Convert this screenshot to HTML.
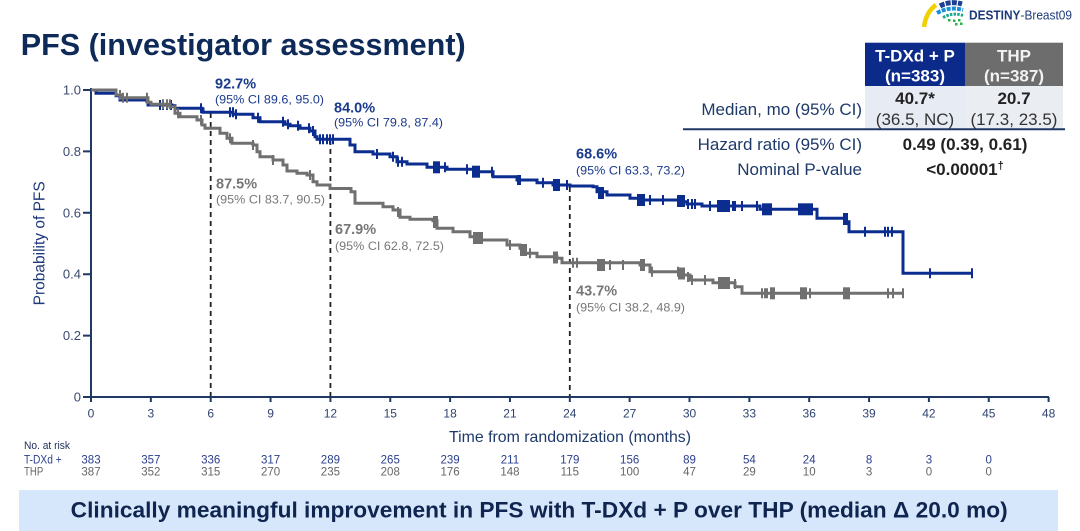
<!DOCTYPE html>
<html>
<head>
<meta charset="utf-8">
<style>
html,body{margin:0;padding:0;background:#ffffff;}
svg{display:block;}
text{font-family:"Liberation Sans",Arial,sans-serif;}
</style>
</head>
<body>
<svg width="1080" height="531" viewBox="0 0 1080 531" xmlns="http://www.w3.org/2000/svg">
<rect x="0" y="0" width="1080" height="531" fill="#ffffff"/>

<!-- Title -->
<text x="20.7" y="55" font-size="31" font-weight="bold" fill="#0e2a58" textLength="445" lengthAdjust="spacingAndGlyphs">PFS (investigator assessment)</text>

<!-- Logo -->
<g>
  <path d="M924 27 Q926 12 936 5" stroke="#f0d000" stroke-width="4.5" fill="none"/>
  <path d="M940 6 Q950 0.5 962 4" stroke="#1c3f94" stroke-width="5" fill="none" stroke-dasharray="5 1.2"/>
  <path d="M937 13 Q950 6 963 10" stroke="#1a8fd8" stroke-width="4" fill="none" stroke-dasharray="4 1.2"/>
  <path d="M943 17.5 Q953 12 963 15.5" stroke="#19a98c" stroke-width="3" fill="none" stroke-dasharray="2.5 1.2"/>
  <rect x="948" y="19" width="2.5" height="2.5" fill="#2bb34a"/>
  <rect x="953" y="19.5" width="2.5" height="2.5" fill="#2bb34a"/>
  <rect x="958" y="19" width="2.5" height="2.5" fill="#2bb34a"/>
  <rect x="955" y="23" width="2.5" height="2.5" fill="#2bb34a"/>
  <rect x="960" y="22.5" width="2.5" height="2.5" fill="#2bb34a"/>
  <text x="969" y="19.5" font-size="12.5" fill="#1c3a7a" textLength="103" lengthAdjust="spacingAndGlyphs"><tspan font-weight="bold">DESTINY</tspan>-Breast09</text>
</g>

<!-- Table -->
<rect x="865" y="42.7" width="100" height="43.3" fill="#0b2a8a"/>
<rect x="965" y="42.7" width="98" height="43.3" fill="#6d6d6d"/>
<rect x="865" y="86" width="100" height="42.3" fill="#e7ebf3"/>
<rect x="965" y="86" width="98" height="42.3" fill="#eaedf2"/>
<text x="915" y="61.7" font-size="17" font-weight="bold" fill="#ffffff" text-anchor="middle">T-DXd + P</text>
<text x="915" y="81.7" font-size="17" font-weight="bold" fill="#ffffff" text-anchor="middle">(n=383)</text>
<text x="1014" y="61.7" font-size="17" font-weight="bold" fill="#f2f2f2" text-anchor="middle">THP</text>
<text x="1014" y="81.7" font-size="17" font-weight="bold" fill="#f2f2f2" text-anchor="middle">(n=387)</text>
<text x="915" y="104" font-size="17" font-weight="bold" fill="#222222" text-anchor="middle">40.7*</text>
<text x="915" y="125" font-size="17" fill="#333333" text-anchor="middle">(36.5, NC)</text>
<text x="1014" y="104" font-size="17" font-weight="bold" fill="#222222" text-anchor="middle">20.7</text>
<text x="1014" y="125" font-size="17" fill="#333333" text-anchor="middle">(17.3, 23.5)</text>
<text x="862" y="115" font-size="17" fill="#1f3a6a" text-anchor="end">Median, mo (95% CI)</text>
<line x1="683" y1="129.3" x2="1065" y2="129.3" stroke="#1f3864" stroke-width="2"/>
<text x="862" y="150" font-size="17" fill="#1f3a6a" text-anchor="end">Hazard ratio (95% CI)</text>
<text x="965" y="150" font-size="17" font-weight="bold" fill="#222222" text-anchor="middle">0.49 (0.39, 0.61)</text>
<text x="862" y="175" font-size="17" fill="#1f3a6a" text-anchor="end">Nominal P-value</text>
<text x="965" y="175" font-size="17" font-weight="bold" fill="#222222" text-anchor="middle">&lt;0.00001<tspan font-size="11" dy="-6">†</tspan></text>

<!-- Axes -->
<g stroke="#1f3864" stroke-width="2" fill="none">
  <line x1="91" y1="88" x2="91" y2="397"/>
  <line x1="90" y1="397" x2="1049" y2="397"/>
  <path d="M83 90H91M83 151.4H91M83 212.8H91M83 274.2H91M83 335.6H91M83 397H91"/>
  <path d="M91 397v5M150.85 397v5M210.7 397v5M270.55 397v5M330.4 397v5M390.25 397v5M450.1 397v5M509.95 397v5M569.8 397v5M629.65 397v5M689.5 397v5M749.35 397v5M809.2 397v5M869.05 397v5M928.9 397v5M988.75 397v5M1048.6 397v5"/>
</g>
<g font-size="13" fill="#3a4a70" text-anchor="end">
  <text x="81" y="94.5">1.0</text>
  <text x="81" y="155.9">0.8</text>
  <text x="81" y="217.3">0.6</text>
  <text x="81" y="278.7">0.4</text>
  <text x="81" y="340.1">0.2</text>
  <text x="81" y="401.5">0</text>
</g>
<g font-size="12" fill="#2f4370" text-anchor="middle">
  <text x="91" y="417.5">0</text>
  <text x="150.85" y="417.5">3</text>
  <text x="210.7" y="417.5">6</text>
  <text x="270.55" y="417.5">9</text>
  <text x="330.4" y="417.5">12</text>
  <text x="390.25" y="417.5">15</text>
  <text x="450.1" y="417.5">18</text>
  <text x="509.95" y="417.5">21</text>
  <text x="569.8" y="417.5">24</text>
  <text x="629.65" y="417.5">27</text>
  <text x="689.5" y="417.5">30</text>
  <text x="749.35" y="417.5">33</text>
  <text x="809.2" y="417.5">36</text>
  <text x="869.05" y="417.5">39</text>
  <text x="928.9" y="417.5">42</text>
  <text x="988.75" y="417.5">45</text>
  <text x="1048.6" y="417.5">48</text>
</g>
<text x="570" y="442" font-size="16" fill="#1f3a6a" text-anchor="middle" textLength="242" lengthAdjust="spacingAndGlyphs">Time from randomization (months)</text>
<text transform="translate(44.5,243.3) rotate(-90)" font-size="15.5" fill="#1f3a7a" text-anchor="middle">Probability of PFS</text>

<!-- Dashed reference lines -->
<g stroke="#222222" stroke-width="1.8" stroke-dasharray="5 4">
  <line x1="210.7" y1="113" x2="210.7" y2="396"/>
  <line x1="330.4" y1="140" x2="330.4" y2="396"/>
  <line x1="569.8" y1="187" x2="569.8" y2="396"/>
</g>

<!-- Blue curve (T-DXd + P) -->
<path fill="none" stroke="#0b2d8f" stroke-width="3" d="M91 90 H96 V93.3 H116 V95.7 H120 V100 H147 V101.7 H148 V105 H172 V105.7 H175 V108.3 H202 V109 H203 V112.3 H233 V114.3 H253 V117.7 H260 V121.7 H285 V124.3 H290 V125.7 H300 V128.3 H310 V131 H315 V136.7 H317 V139.3 H350 V145 H355 V151.7 H373 V154 H390 V156.7 H397 V161.7 H407 V164 H427 V167.3 H447 V169.3 H477 V171.7 H493 V176.7 H517 V180 H537 V182.7 H553 V185 H570 V186 H593 V186.7 H597 V191.7 H607 V195 H630 V198.3 H640 V200 H678 V200 H682 V201.7 H687 V204 H702 V206 H760 V209.3 H817 V218.3 H845 V221.7 H849 V231.7 H903 V273.3 H972"/>
<path fill="none" stroke="#0b2d8f" stroke-width="2" d="M160 100v10 M163 100v10 M167 100v10 M171 100v10 M201 103.3v10 M230 107.3v10 M233 107.3v10 M236 109.3v10 M258 112.7v10 M283 116.7v10 M288 119.3v10 M298 120.7v10 M309 123.3v10 M313 126v10 M320 134.3v10 M323 134.3v10 M327 134.3v10 M330 134.3v10 M333 134.3v10 M377 149v10 M393 151.7v10 M398 156.7v10 M402 156.7v10 M445 162.3v10 M467 164.3v10 M492 166.7v10 M518 175v10 M520 175v10 M543 177.7v10 M567 180v10 M650 195v10 M663 195v10 M678 195v10 M688 199v10 M692 199v10 M695 199v10 M710 201v10 M733 201v10 M735 201v10 M742 201v10 M757 201v10 M865 226.7v10 M885 226.7v10 M888 226.7v10 M892 226.7v10 M930 268.3v10 M972 268.3v10"/>
<g fill="#0b2d8f">
  <rect x="433" y="161.3" width="7" height="12"/>
  <rect x="472" y="165.7" width="8" height="12"/>
  <rect x="553" y="179" width="7" height="12"/>
  <rect x="598" y="187" width="6" height="12"/>
  <rect x="637" y="194" width="8" height="12"/>
  <rect x="677" y="195" width="8" height="12"/>
  <rect x="717" y="200" width="13" height="12"/>
  <rect x="762" y="203.3" width="10" height="12"/>
  <rect x="798" y="203.3" width="15" height="12"/>
  <rect x="843" y="213" width="5" height="12"/>
</g>

<!-- Gray curve (THP) -->
<path fill="none" stroke="#707070" stroke-width="3" d="M91 90 H116 V95 H121 V97.7 H148 V102.3 H151 V104.3 H170 V106.7 H175 V113.3 H180 V116.7 H197 V120 H202 V125 H205 V128.3 H220 V133.3 H227 V138.3 H232 V143.3 H253 V145 H257 V151.7 H260 V156.7 H273 V160 H283 V165 H287 V171 H297 V173.3 H307 V175 H313 V181.7 H317 V185 H330 V188.5 H351 V191.7 H355 V203.3 H383 V206.7 H393 V210 H400 V217.3 H410 V219.3 H433 V220.7 H437 V228.3 H453 V231.7 H470 V236.7 H480 V240 H507 V245 H520 V248.3 H523 V253.3 H537 V256.7 H557 V258.3 H562 V262.8 H640 V265 H650 V271.7 H682 V275 H690 V280 H713 V282.7 H735 V286.7 H742 V293.3 H903"/>
<path fill="none" stroke="#707070" stroke-width="2" d="M120 90v10 M123 92.7v10 M127 92.7v10 M147 92.7v10 M163 99.3v10 M167 99.3v10 M170 99.3v10 M178 108.3v10 M201 115v10 M230 133.3v10 M253 140v10 M273 155v10 M310 170v10 M398 207v10 M510 240v10 M530 248.3v10 M573 257.8v10 M577 257.8v10 M610 260v10 M623 260v10 M652 266.7v10 M678 266.7v10 M688 272v10 M692 275v10 M705 275v10 M735 279v10 M762 288.3v10 M765 288.3v10 M767 288.3v10 M810 288.3v10 M888 288.3v10 M893 288.3v10 M903 288.3v10"/>
<g fill="#707070">
  <rect x="433" y="216" width="5" height="12"/>
  <rect x="473" y="232" width="10" height="12"/>
  <rect x="520" y="244" width="7" height="12"/>
  <rect x="553" y="251.5" width="5" height="12"/>
  <rect x="597" y="259" width="8" height="12"/>
  <rect x="640" y="259" width="5" height="12"/>
  <rect x="678" y="267.5" width="7" height="12"/>
  <rect x="718" y="277" width="12" height="12"/>
  <rect x="770" y="287.3" width="5" height="12"/>
  <rect x="800" y="287.3" width="7" height="12"/>
  <rect x="843" y="287.3" width="7" height="12"/>
</g>

<!-- Annotations -->
<g font-weight="bold" font-size="14.5" fill="#1a3a8c">
  <text x="215" y="88.3">92.7%</text>
  <text x="334" y="112.5">84.0%</text>
  <text x="576" y="158.3">68.6%</text>
</g>
<g font-size="12" fill="#1a3a8c">
  <text x="215" y="103.3" textLength="109" lengthAdjust="spacingAndGlyphs">(95% CI 89.6, 95.0)</text>
  <text x="334" y="126.7" textLength="109" lengthAdjust="spacingAndGlyphs">(95% CI 79.8, 87.4)</text>
  <text x="576" y="174.3" textLength="109" lengthAdjust="spacingAndGlyphs">(95% CI 63.3, 73.2)</text>
</g>
<g font-weight="bold" font-size="14.5" fill="#777777">
  <text x="216" y="188.3">87.5%</text>
  <text x="335" y="234">67.9%</text>
  <text x="576" y="295.7">43.7%</text>
</g>
<g font-size="12" fill="#777777">
  <text x="216" y="203.3" textLength="109" lengthAdjust="spacingAndGlyphs">(95% CI 83.7, 90.5)</text>
  <text x="335" y="250" textLength="109" lengthAdjust="spacingAndGlyphs">(95% CI 62.8, 72.5)</text>
  <text x="576" y="311.7" textLength="109" lengthAdjust="spacingAndGlyphs">(95% CI 38.2, 48.9)</text>
</g>

<!-- Number at risk -->
<text x="24" y="449" font-size="11" fill="#1f2d5a" textLength="46" lengthAdjust="spacingAndGlyphs">No. at risk</text>
<text x="24" y="463.3" font-size="11.5" fill="#2b3f8c" textLength="37.7" lengthAdjust="spacingAndGlyphs">T-DXd +</text>
<text x="24" y="475.7" font-size="11.5" fill="#666666" textLength="19.3" lengthAdjust="spacingAndGlyphs">THP</text>
<g font-size="11.5" fill="#2b3f8c" text-anchor="middle">
  <text x="91" y="463.3">383</text>
  <text x="150.85" y="463.3">357</text>
  <text x="210.7" y="463.3">336</text>
  <text x="270.55" y="463.3">317</text>
  <text x="330.4" y="463.3">289</text>
  <text x="390.25" y="463.3">265</text>
  <text x="450.1" y="463.3">239</text>
  <text x="509.95" y="463.3">211</text>
  <text x="569.8" y="463.3">179</text>
  <text x="629.65" y="463.3">156</text>
  <text x="689.5" y="463.3">89</text>
  <text x="749.35" y="463.3">54</text>
  <text x="809.2" y="463.3">24</text>
  <text x="869.05" y="463.3">8</text>
  <text x="928.9" y="463.3">3</text>
  <text x="988.75" y="463.3">0</text>
</g>
<g font-size="11.5" fill="#666666" text-anchor="middle">
  <text x="91" y="475.7">387</text>
  <text x="150.85" y="475.7">352</text>
  <text x="210.7" y="475.7">315</text>
  <text x="270.55" y="475.7">270</text>
  <text x="330.4" y="475.7">235</text>
  <text x="390.25" y="475.7">208</text>
  <text x="450.1" y="475.7">176</text>
  <text x="509.95" y="475.7">148</text>
  <text x="569.8" y="475.7">115</text>
  <text x="629.65" y="475.7">100</text>
  <text x="689.5" y="475.7">47</text>
  <text x="749.35" y="475.7">29</text>
  <text x="809.2" y="475.7">10</text>
  <text x="869.05" y="475.7">3</text>
  <text x="928.9" y="475.7">0</text>
  <text x="988.75" y="475.7">0</text>
</g>

<!-- Bottom banner -->
<rect x="19" y="490" width="1039" height="41" fill="#d7e7fb"/>
<text x="70.7" y="517.5" font-size="22" font-weight="bold" fill="#0f2550" textLength="937" lengthAdjust="spacingAndGlyphs">Clinically meaningful improvement in PFS with T-DXd + P over THP (median Δ 20.0 mo)</text>
</svg>
</body>
</html>
